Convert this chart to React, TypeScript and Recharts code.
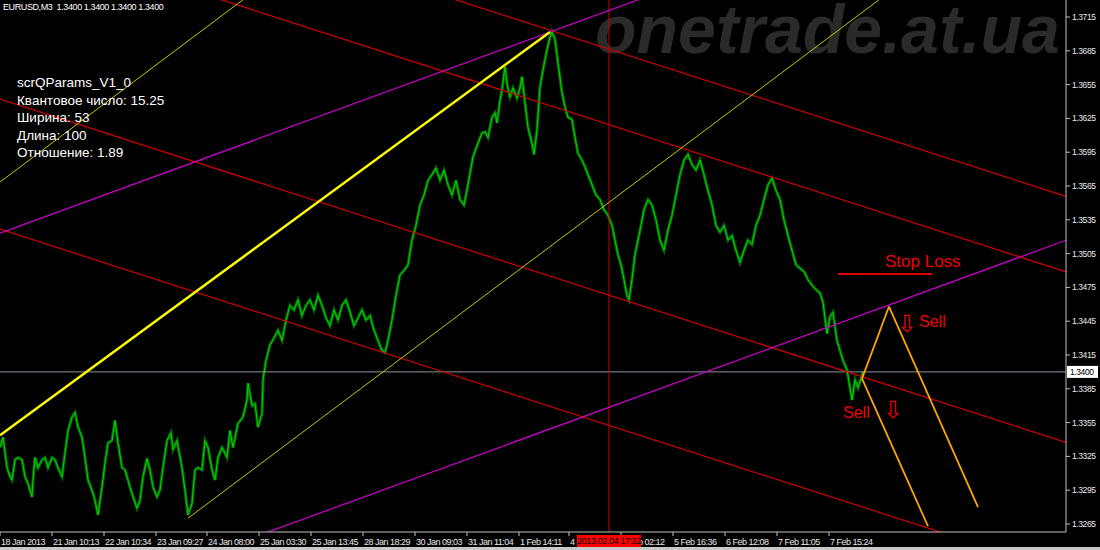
import React from "react"
import { ComposedChart, Line, XAxis, YAxis, ReferenceLine } from "recharts"

// Time axis: bar index of each label and its text
const X_TICK_BARS = [0, 52, 104, 156, 207, 259, 311, 363, 415, 467, 519, 569, 621, 673, 725, 777, 829]
const X_TICK_LABELS = [
  "18 Jan 2013", "21 Jan 10:13", "22 Jan 10:34", "23 Jan 09:27", "24 Jan 08:00",
  "25 Jan 03:30", "25 Jan 13:45", "28 Jan 18:29", "30 Jan 09:03", "31 Jan 11:04",
  "1 Feb 14:11", "4 Feb 07:41", "5 Feb 02:12", "5 Feb 16:36", "6 Feb 12:08",
  "7 Feb 11:05", "7 Feb 15:24",
]

// Price axis
const PRICE_TICKS = [
  1.3265, 1.3295, 1.3325, 1.3355, 1.3385, 1.3415, 1.3445, 1.3475,
  1.3505, 1.3535, 1.3565, 1.3595, 1.3625, 1.3655, 1.3685, 1.3715,
]
const PRICE_DOMAIN = [1.32579, 1.37301]
const BAR_DOMAIN = [0, 1066]
const LAST_PRICE = 1.34
const CURSOR_BAR = 609
const CURSOR_TIME = "2013.02.04 17:22"

// EURUSD M3 path, [bar, price]
const PRICE_PATH: [number, number][] = [
  [0, 1.3333], [3, 1.3342], [5, 1.3329], [7, 1.3315], [10, 1.3307], [12, 1.3304], [15, 1.3322], [18, 1.3324],
  [22, 1.3322], [25, 1.3307], [28, 1.3301], [32, 1.3289], [33, 1.3304], [35, 1.3324], [38, 1.3315], [42, 1.3322],
  [45, 1.3324], [48, 1.3315], [52, 1.3324], [55, 1.3322], [58, 1.3315], [62, 1.3307], [65, 1.3328], [68, 1.3348],
  [72, 1.336], [75, 1.3364], [78, 1.3351], [82, 1.3342], [85, 1.3324], [88, 1.3304], [92, 1.3295], [95, 1.3286],
  [98, 1.3273], [102, 1.3298], [105, 1.3319], [108, 1.3337], [112, 1.3339], [115, 1.3357], [118, 1.3337], [122, 1.3315],
  [125, 1.3313], [128, 1.3304], [132, 1.3292], [137, 1.3279], [140, 1.3286], [143, 1.3307], [147, 1.3323], [150, 1.3313],
  [153, 1.3298], [157, 1.3289], [160, 1.3295], [163, 1.3315], [167, 1.3339], [171, 1.3346], [173, 1.3331], [177, 1.3339],
  [182, 1.3315], [185, 1.3295], [188, 1.3273], [192, 1.3283], [195, 1.3313], [198, 1.3315], [202, 1.3313], [205, 1.3339],
  [208, 1.3333], [212, 1.3313], [215, 1.3304], [218, 1.3324], [222, 1.3333], [227, 1.3324], [230, 1.3348], [233, 1.3333],
  [238, 1.3354], [243, 1.336], [247, 1.3375], [248, 1.339], [252, 1.337], [255, 1.3372], [258, 1.3351], [262, 1.3363],
  [263, 1.3393], [266, 1.341], [270, 1.3424], [274, 1.343], [278, 1.3437], [282, 1.3428], [286, 1.3446], [290, 1.3459],
  [294, 1.3455], [298, 1.3464], [302, 1.345], [306, 1.3459], [310, 1.3464], [314, 1.3455], [318, 1.3468], [322, 1.3459],
  [326, 1.3448], [330, 1.3441], [334, 1.3455], [338, 1.3446], [342, 1.3459], [346, 1.3464], [350, 1.3453], [354, 1.3441],
  [358, 1.3448], [362, 1.3455], [366, 1.3446], [370, 1.345], [374, 1.3437], [378, 1.3428], [382, 1.3419], [385, 1.3417],
  [388, 1.3428], [392, 1.3446], [396, 1.3468], [400, 1.3486], [404, 1.349], [408, 1.3495], [412, 1.3517], [416, 1.353],
  [420, 1.3548], [424, 1.3557], [428, 1.357], [432, 1.3575], [436, 1.3581], [440, 1.357], [444, 1.3579], [448, 1.3566],
  [452, 1.3557], [456, 1.357], [460, 1.3553], [464, 1.3548], [468, 1.3566], [473, 1.3591], [478, 1.3603], [482, 1.3612],
  [485, 1.3613], [488, 1.3608], [492, 1.3626], [495, 1.363], [497, 1.3621], [500, 1.3641], [502, 1.365], [505, 1.3671],
  [507, 1.3656], [510, 1.3644], [513, 1.3652], [517, 1.3643], [520, 1.3652], [522, 1.3662], [525, 1.3639], [528, 1.3617],
  [532, 1.3603], [534, 1.3593], [537, 1.3615], [540, 1.3653], [543, 1.3668], [547, 1.3686], [550, 1.3697], [552, 1.3702],
  [555, 1.3695], [558, 1.3674], [562, 1.3648], [565, 1.3635], [568, 1.3626], [572, 1.3624], [575, 1.3608], [578, 1.3594],
  [582, 1.3588], [585, 1.3582], [588, 1.3575], [592, 1.3566], [596, 1.3557], [600, 1.3553], [604, 1.3544], [608, 1.3539],
  [612, 1.353], [615, 1.3517], [618, 1.3504], [621, 1.3495], [624, 1.3482], [627, 1.3468], [629, 1.3464], [632, 1.3482],
  [635, 1.3504], [638, 1.3517], [641, 1.353], [644, 1.3544], [648, 1.3553], [652, 1.3548], [656, 1.3535], [660, 1.3517],
  [664, 1.3508], [668, 1.3526], [672, 1.3539], [676, 1.3557], [680, 1.3575], [684, 1.3588], [688, 1.3593], [692, 1.3584],
  [696, 1.3579], [700, 1.3588], [704, 1.3575], [708, 1.3561], [712, 1.3548], [716, 1.353], [720, 1.3524], [724, 1.353],
  [728, 1.3517], [732, 1.3521], [736, 1.3508], [740, 1.3497], [744, 1.3508], [748, 1.3517], [752, 1.3513], [756, 1.353],
  [760, 1.3539], [764, 1.3553], [768, 1.3566], [772, 1.3572], [776, 1.3561], [780, 1.3553], [784, 1.3535], [788, 1.3521],
  [792, 1.3508], [796, 1.3495], [800, 1.3492], [804, 1.3489], [808, 1.3482], [812, 1.3477], [816, 1.3473], [820, 1.347],
  [823, 1.3462], [827, 1.3434], [830, 1.3449], [833, 1.3453], [835, 1.344], [837, 1.3428], [840, 1.3419], [843, 1.341],
  [847, 1.3402], [850, 1.3386], [852, 1.3375], [855, 1.3393], [858, 1.3386], [862, 1.3397], [863, 1.34],
]

// Objects drawn on the chart, as [bar, price] anchors
const RED_CHANNEL: [number, number][][] = [
  [[0, 1.38606], [1066, 1.35558]],
  [[0, 1.37936], [1066, 1.34888]],
  [[0, 1.36422], [1066, 1.33374]],
  [[0, 1.35267], [1066, 1.32219]],
]
const MAGENTA_LINES: [number, number][][] = [
  [[0, 1.35232], [1066, 1.38692]],
  [[0, 1.31709], [1066, 1.35169]],
]
const YELLOW_THIN: [number, number][][] = [
  [[0, 1.35685], [400, 1.38349]],
  [[188, 1.32701], [900, 1.37443]],
]
const YELLOW_THICK: [number, number][] = [[0, 1.33438], [550, 1.37017]]
const ORANGE_PATHS: [number, number][][] = [
  [[862, 1.3394], [889, 1.3458], [978, 1.328]],
  [[862, 1.3394], [928, 1.3263]],
]
const STOP_LOSS: [number, number][] = [[838, 1.3487], [932, 1.3487]]

const INFO_LINES = ["scrQParams_V1_0", "Квантовое число: 15.25", "Ширина: 53", "Длина: 100", "Отношение: 1.89"]

const priceData = PRICE_PATH.map(([bar, price]) => ({ bar, price }))

const toSegments = (path: [number, number][]) =>
  path.slice(1).map((p, i) => [
    { x: path[i][0], y: path[i][1] },
    { x: p[0], y: p[1] },
  ])

const PLOT_W = 1066
const AXIS_FONT = "Liberation Sans, Arial, sans-serif"
// the crosshair time box sits over the time axis, so it goes in the top layer
const cursorX = ((CURSOR_BAR - BAR_DOMAIN[0]) / (BAR_DOMAIN[1] - BAR_DOMAIN[0])) * PLOT_W

function XTick(props: any) {
  const { x, payload } = props
  const i = X_TICK_BARS.indexOf(payload.value)
  return (
    <g>
      <line x1={x} y1={532} x2={x} y2={536} stroke="#c0c0c0" />
      <text x={x + 1} y={545} fontSize={9} letterSpacing={-0.5} fill="#e8e8e8" fontFamily={AXIS_FONT}>
        {X_TICK_LABELS[i]}
      </text>
    </g>
  )
}

function YTick(props: any) {
  const { y, payload } = props
  return (
    <g>
      <line x1={1066} y1={y} x2={1070} y2={y} stroke="#c0c0c0" />
      <text x={1072} y={y + 3} fontSize={8.5} letterSpacing={-0.4} fill="#e8e8e8" fontFamily={AXIS_FONT}>
        {payload.value.toFixed(4)}
      </text>
    </g>
  )
}

function LastPriceLabel(props: any) {
  const { viewBox } = props
  const y = viewBox.y
  return (
    <g>
      <rect x={1067} y={y - 6} width={31} height={12} fill="#ffffff" />
      <text x={1070} y={y + 3} fontSize={8.5} letterSpacing={-0.4} fill="#000" fontFamily={AXIS_FONT}>
        {LAST_PRICE.toFixed(4)}
      </text>
    </g>
  )
}

export default function App() {
  return (
    <div style={{ position: "fixed", left: 0, top: 0, width: 1100, height: 550, background: "#000", overflow: "hidden" }}>
      {/* watermark behind everything */}
      <svg width={1100} height={550} style={{ position: "absolute", left: 0, top: 0 }}>
        <text x={595} y={53} fontSize={68} fontWeight="bold" fontStyle="italic" fill="#2a2a2a" fontFamily={AXIS_FONT}>
          onetrade.at.ua
        </text>
      </svg>

      <div style={{ position: "absolute", left: 0, top: 0 }}>
        <ComposedChart width={1100} height={550} data={priceData} margin={{ top: 0, right: 0, bottom: 0, left: 0 }}>
          <XAxis
            dataKey="bar"
            type="number"
            domain={BAR_DOMAIN}
            allowDataOverflow
            ticks={X_TICK_BARS}
            interval={0}
            height={18}
            tickLine={false}
            axisLine={{ stroke: "#c0c0c0" }}
            tick={<XTick />}
          />
          <YAxis
            orientation="right"
            type="number"
            domain={PRICE_DOMAIN}
            allowDataOverflow
            ticks={PRICE_TICKS}
            interval={0}
            width={34}
            tickLine={false}
            axisLine={{ stroke: "#c0c0c0" }}
            tick={<YTick />}
          />

          <Line dataKey="price" type="linear" stroke="#006c00" strokeWidth={3} dot={false} activeDot={false} isAnimationActive={false} />
          <Line dataKey="price" type="linear" stroke="#00d400" strokeWidth={1} dot={false} activeDot={false} isAnimationActive={false} />

          <ReferenceLine y={LAST_PRICE} stroke="#8a949c" strokeWidth={1} label={<LastPriceLabel />} />
          <ReferenceLine x={CURSOR_BAR} stroke="#c80000" strokeWidth={1} />

          {RED_CHANNEL.map((seg, i) => (
            <ReferenceLine key={`red-${i}`} segment={seg.map(([x, y]) => ({ x, y }))} stroke="#cc0000" strokeWidth={1.2} ifOverflow="hidden" />
          ))}
          {MAGENTA_LINES.map((seg, i) => (
            <ReferenceLine key={`mag-${i}`} segment={seg.map(([x, y]) => ({ x, y }))} stroke="#cc00cc" strokeWidth={1.2} ifOverflow="hidden" />
          ))}
          {YELLOW_THIN.map((seg, i) => (
            <ReferenceLine key={`yel-${i}`} segment={seg.map(([x, y]) => ({ x, y }))} stroke="#c8c800" strokeWidth={1} ifOverflow="hidden" />
          ))}
          <ReferenceLine segment={YELLOW_THICK.map(([x, y]) => ({ x, y }))} stroke="#ffff00" strokeWidth={2.5} ifOverflow="hidden" />
          {ORANGE_PATHS.flatMap((path, i) =>
            toSegments(path).map((seg, j) => (
              <ReferenceLine key={`or-${i}-${j}`} segment={seg} stroke="#ffa500" strokeWidth={1.8} ifOverflow="hidden" />
            ))
          )}
          <ReferenceLine segment={STOP_LOSS.map(([x, y]) => ({ x, y }))} stroke="#e00000" strokeWidth={2} ifOverflow="hidden" />
        </ComposedChart>
      </div>

      {/* text objects on top */}
      <svg width={1100} height={550} style={{ position: "absolute", left: 0, top: 0, pointerEvents: "none" }}>
        <text x={3} y={10} fontSize={9} letterSpacing={-0.4} fill="#ffffff" fontFamily={AXIS_FONT} style={{ whiteSpace: "pre" }}>
          {"EURUSD,M3  1.3400 1.3400 1.3400 1.3400"}
        </text>
        {INFO_LINES.map((t, i) => (
          <text key={t} x={17} y={87 + i * 17.5} fontSize={13.5} fill="#ffffff" fontFamily={AXIS_FONT}>
            {t}
          </text>
        ))}
        <text x={885} y={267} fontSize={17} fill="#ee0000" fontFamily={AXIS_FONT}>Stop Loss</text>
        <text x={897} y={332} fontSize={24} fill="#ee0000" fontFamily="DejaVu Sans, sans-serif">⇩</text>
        <text x={919} y={327} fontSize={16} fill="#ee0000" fontFamily={AXIS_FONT}>Sell</text>
        <text x={843} y={418} fontSize={16} fill="#ee0000" fontFamily={AXIS_FONT}>Sell</text>
        <text x={883} y={418} fontSize={24} fill="#ee0000" fontFamily="DejaVu Sans, sans-serif">⇩</text>

        <rect x={cursorX - 32} y={535} width={64} height={12} fill="#ff0000" />
        <text x={cursorX} y={544} textAnchor="middle" fontSize={9} letterSpacing={-0.4} fill="#000" fontFamily={AXIS_FONT}>
          {CURSOR_TIME}
        </text>
      </svg>
      <div style={{ position: "absolute", left: 0, top: 547, width: 1100, height: 3, background: "#c8c8c8" }} />
    </div>
  )
}
